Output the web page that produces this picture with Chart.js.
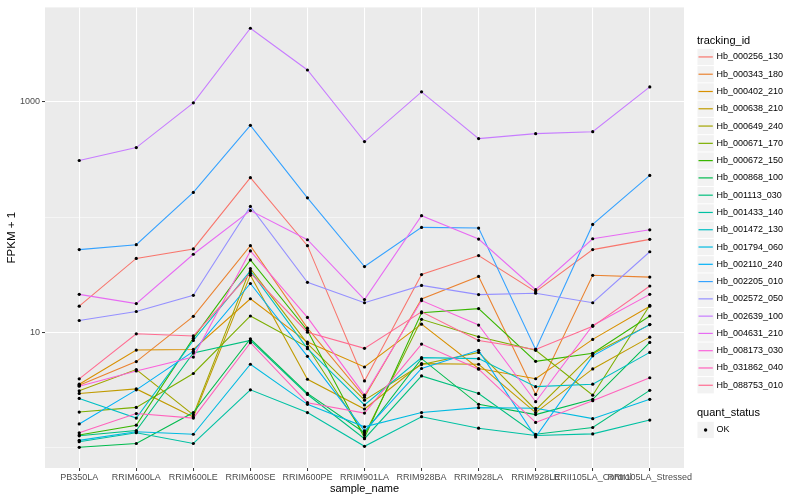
<!DOCTYPE html>
<html>
<head>
<meta charset="utf-8">
<script src="https://cdn.jsdelivr.net/npm/chart.js@4.4.1/dist/chart.umd.min.js"></script>
<style>
  body { margin: 0; background: #fff; }
  #wrap { position: relative; width: 800px; height: 500px; font-family: "Liberation Sans", Arial, sans-serif; }
  #legend div { position: absolute; white-space: nowrap; }
  .ltitle { left: 697px; font-size: 11px; line-height: 13px; color: #000; }
  .llab { left: 716.5px; font-size: 9px; line-height: 11px; color: #000; }
</style>
</head>
<body>
<div id="wrap">
  <canvas id="myChart" width="800" height="500"></canvas>
  <div id="legend"></div>
</div>
<script>
const categories = ['PB350LA', 'RRIM600LA', 'RRIM600LE', 'RRIM600SE', 'RRIM600PE', 'RRIM901LA',
  'RRIM928BA', 'RRIM928LA', 'RRIM928LE', 'RRII105LA_Control', 'RRII105LA_Stressed'];

const seriesNames = ['Hb_000256_130', 'Hb_000343_180', 'Hb_000402_210', 'Hb_000638_210', 'Hb_000649_240',
  'Hb_000671_170', 'Hb_000672_150', 'Hb_000868_100', 'Hb_001113_030', 'Hb_001433_140',
  'Hb_001472_130', 'Hb_001794_060', 'Hb_002110_240', 'Hb_002205_010', 'Hb_002572_050',
  'Hb_002639_100', 'Hb_004631_210', 'Hb_008173_030', 'Hb_031862_040', 'Hb_088753_010'];

const seriesColors = ['#F8766D', '#EA8331', '#D89000', '#C09B00', '#A3A500', '#7CAE00', '#39B600',
  '#00BB4E', '#00BF7D', '#00C1A3', '#00BFC4', '#00BAE0', '#00B0F6', '#35A2FF', '#9590FF',
  '#C77CFF', '#E76BF3', '#FA62DB', '#FF62BC', '#FF6C91'];

// FPKM + 1, one value per sample
const hb_000256_130 = [16.9, 43.9, 53.0, 220, 56.6, 3.80, 31.8, 46.4, 22.6, 52.3, 64.2];
const hb_000343_180 = [3.49, 5.59, 13.8, 56.6, 10.9, 2.75, 19.5, 30.6, 2.90, 31.3, 30.2];
const hb_000402_210 = [3.56, 7.04, 7.13, 19.6, 8.25, 5.02, 11.8, 4.87, 3.97, 8.71, 16.9];
const hb_000638_210 = [2.96, 3.24, 1.85, 31.4, 3.93, 2.17, 5.37, 5.30, 2.02, 4.83, 9.11];
const hb_000649_240 = [3.12, 4.77, 1.93, 35.8, 8.0, 2.59, 5.27, 6.72, 2.13, 6.55, 11.7];
const hb_000671_170 = [2.04, 2.24, 4.41, 13.9, 7.47, 1.29, 13.0, 9.18, 7.00, 2.86, 17.2];
const hb_000672_150 = [1.29, 1.57, 8.93, 42.6, 10.4, 1.22, 14.8, 16.1, 5.62, 6.6, 13.9];
const hb_000868_100 = [1.01, 1.09, 2.02, 8.82, 2.96, 1.35, 5.93, 2.38, 1.94, 2.63, 8.20];
const hb_001113_030 = [1.27, 1.41, 6.63, 8.53, 2.9, 1.2, 4.20, 2.96, 1.31, 1.50, 3.15];
const hb_001433_140 = [1.13, 1.35, 1.09, 3.18, 2.02, 1.03, 1.86, 1.48, 1.28, 1.32, 1.74];
const hb_001472_130 = [2.68, 1.81, 8.53, 34.2, 7.24, 2.35, 6.05, 5.93, 3.39, 3.56, 6.72];
const hb_001794_060 = [1.16, 1.38, 1.31, 5.30, 2.38, 1.52, 2.02, 2.23, 2.20, 1.79, 2.63];
const hb_002110_240 = [1.61, 3.18, 6.86, 26.6, 6.21, 1.40, 4.87, 7.00, 1.24, 6.27, 11.7];
const hb_002205_010 = [52.3, 57.7, 164, 625, 147, 37.3, 81.5, 80.4, 7.13, 86.5, 230];
const hb_002572_050 = [12.7, 15.2, 21.0, 124, 27.2, 18.1, 25.6, 21.3, 21.9, 18.1, 50.1];
const hb_002639_100 = [310, 401, 980, 4345, 1888, 452, 1220, 480, 530, 551, 1347];
const hb_004631_210 = [21.4, 17.8, 47.7, 114, 63.7, 19.3, 103, 64.6, 23.5, 65.0, 77.7];
const hb_008173_030 = [3.42, 4.64, 6.12, 50.9, 13.5, 2.86, 18.9, 11.6, 2.51, 11.5, 21.4];
const hb_031862_040 = [1.35, 1.98, 1.81, 8.15, 2.46, 2.00, 7.93, 4.8, 1.66, 2.56, 4.05];
const hb_088753_010 = [3.96, 9.74, 9.33, 32.7, 10.06, 7.28, 15.1, 8.53, 7.13, 11.3, 25.3];

const seriesValues = [hb_000256_130, hb_000343_180, hb_000402_210, hb_000638_210, hb_000649_240,
  hb_000671_170, hb_000672_150, hb_000868_100, hb_001113_030, hb_001433_140,
  hb_001472_130, hb_001794_060, hb_002110_240, hb_002205_010, hb_002572_050,
  hb_002639_100, hb_004631_210, hb_008173_030, hb_031862_040, hb_088753_010];

const yTickValues = [1, 10, 100, 1000];
const yMajorTicks = [10, 1000];

Chart.defaults.font.family = '"Liberation Sans", Arial, sans-serif';

const keyLeft = 697, keyTop = 48.3, keyH = 17.28, okTop = 421.3;

const panelBg = {
  id: 'panelBg',
  beforeDraw(chart) {
    const { ctx, chartArea: a } = chart;
    ctx.save();
    ctx.fillStyle = '#EBEBEB';
    ctx.fillRect(a.left, a.top, a.right - a.left, a.bottom - a.top);
    ctx.restore();
  },
  // legend key boxes and their glyphs
  afterDraw(chart) {
    const ctx = chart.ctx;
    ctx.save();
    ctx.fillStyle = '#F2F2F2';
    seriesColors.forEach((c, i) => {
      const top = keyTop + keyH * i;
      ctx.fillStyle = '#F2F2F2';
      ctx.fillRect(keyLeft + 0.5, top + 0.5, 16.3, keyH - 1);
      ctx.strokeStyle = c;
      ctx.lineWidth = 1.2;
      ctx.beginPath();
      ctx.moveTo(keyLeft + 1.5, top + keyH / 2);
      ctx.lineTo(keyLeft + 15.8, top + keyH / 2);
      ctx.stroke();
    });
    ctx.fillStyle = '#F2F2F2';
    ctx.fillRect(keyLeft + 0.5, okTop + 0.5, 16.3, keyH - 1);
    ctx.fillStyle = '#000';
    ctx.beginPath();
    ctx.arc(keyLeft + 8.6, okTop + keyH / 2, 1.7, 0, Math.PI * 2);
    ctx.fill();
    ctx.restore();
  }
};

const datasets = seriesValues.map((vals, i) => ({
  label: seriesNames[i],
  data: vals.map((v, j) => ({ x: j, y: v })),
  borderColor: seriesColors[i],
  backgroundColor: seriesColors[i],
  borderWidth: 1.07,
  pointRadius: 0,
  fill: false,
  tension: 0,
  order: 20 - i
}));

// points for quant_status = OK, drawn above all lines
const pointData = [];
seriesValues.forEach(vals => vals.forEach((v, j) => pointData.push({ x: j, y: v })));
datasets.push({
  label: 'OK',
  data: pointData,
  showLine: false,
  pointRadius: 1.6,
  pointBackgroundColor: '#000',
  pointBorderWidth: 0,
  order: -1
});

const ctx = document.getElementById('myChart');
const myChart = new Chart(ctx, {
  type: 'line',
  data: { datasets: datasets },
  plugins: [panelBg],
  options: {
    responsive: false,
    animation: false,
    events: [],
    layout: { padding: { top: 5, right: 116, bottom: 0, left: 0 } },
    plugins: { legend: { display: false }, tooltip: { enabled: false } },
    scales: {
      x: {
        type: 'linear',
        min: -0.6,
        max: 10.6,
        bounds: 'data',
        afterBuildTicks: s => { s.ticks = categories.map((c, i) => ({ value: i })); },
        afterFit: s => { s.height = 32; },
        border: { display: false },
        grid: { color: '#FFFFFF', lineWidth: 1.07, tickColor: '#333333', tickLength: 3, tickWidth: 1 },
        ticks: {
          autoSkip: false, maxRotation: 0, minRotation: 0, padding: 1.5,
          color: '#4D4D4D', font: { size: 9 },
          callback: v => categories[v]
        },
        title: { display: true, text: 'sample_name', color: '#000', font: { size: 11 }, padding: { top: 0, bottom: 4 } }
      },
      y: {
        type: 'logarithmic',
        min: 0.668,
        max: 6590,
        bounds: 'data',
        afterBuildTicks: s => { s.ticks = yTickValues.map(v => ({ value: v })); },
        afterFit: s => { s.width = 45; },
        border: { display: false },
        grid: {
          color: '#FFFFFF',
          lineWidth: c => yMajorTicks.includes(c.tick.value) ? 1.07 : 0.53,
          tickColor: c => yMajorTicks.includes(c.tick.value) ? '#333333' : 'rgba(0,0,0,0)',
          tickLength: 3,
          tickWidth: 1
        },
        ticks: {
          padding: 2, color: '#4D4D4D', font: { size: 9 },
          callback: v => yMajorTicks.includes(v) ? String(v) : ''
        },
        title: { display: true, text: 'FPKM + 1', color: '#000', font: { size: 11.5 }, padding: { top: 5, bottom: 0 } }
      }
    }
  }
});

// legend texts
const legend = document.getElementById('legend');
function addText(cls, top, text) {
  const d = document.createElement('div');
  d.className = cls;
  d.style.top = top + 'px';
  d.textContent = text;
  legend.appendChild(d);
}
addText('ltitle', 40.7 - 6.5, 'tracking_id');
seriesNames.forEach((name, i) => addText('llab', keyTop + keyH * i + keyH / 2 - 5.5, name));
addText('ltitle', 412.3 - 6.5, 'quant_status');
addText('llab', okTop + keyH / 2 - 5.5, 'OK');
</script>
</body>
</html>
